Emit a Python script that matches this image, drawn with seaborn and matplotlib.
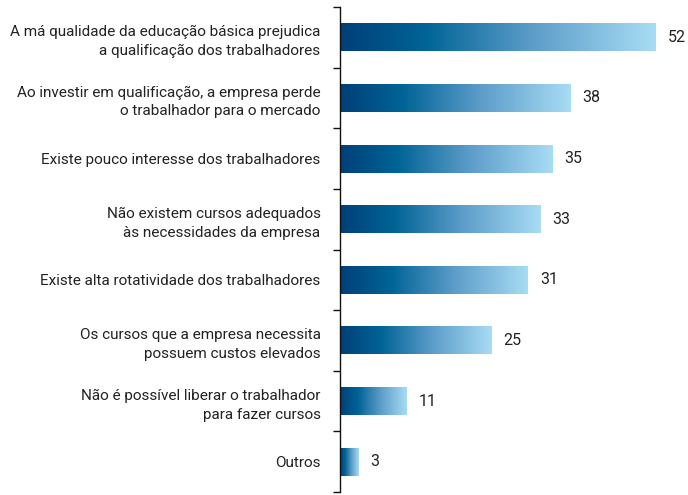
import numpy as np
import pandas as pd
import matplotlib.pyplot as plt
import seaborn as sns
from matplotlib.colors import LinearSegmentedColormap
from matplotlib.ticker import FixedLocator

# data
motivos = [
    "A má qualidade da educação básica prejudica\na qualificação dos trabalhadores",
    "Ao investir em qualificação, a empresa perde\no trabalhador para o mercado",
    "Existe pouco interesse dos trabalhadores",
    "Não existem cursos adequados\nàs necessidades da empresa",
    "Existe alta rotatividade dos trabalhadores",
    "Os cursos que a empresa necessita\npossuem custos elevados",
    "Não é possível liberar o trabalhador\npara fazer cursos",
    "Outros",
]
percentuais = [52, 38, 35, 33, 31, 25, 11, 3]

df = pd.DataFrame({'motivo': motivos, 'pct': percentuais})

sns.set_style("white")
plt.rcParams['font.family'] = ['Roboto', 'DejaVu Sans']

fig = plt.figure(figsize=(6.88, 4.95), dpi=100)
ax = fig.add_axes([340/688, 1 - 492/495, 1 - 340/688, 485/495])

sns.barplot(data=df, x='pct', y='motivo', orient='h', width=0.46,
            color='#00427a', ax=ax)

# gradient fill for each bar
grad = LinearSegmentedColormap.from_list(
    'azul', [(0.0, '#003f78'), (0.27, '#006496'), (0.6, '#5a9bc8'), (1.0, '#a8dcf4')])
g = np.linspace(0, 1, 256).reshape(1, -1)
for p in list(ax.patches):
    x0, y0 = p.get_x(), p.get_y()
    w, h = p.get_width(), p.get_height()
    p.set_visible(False)
    ax.imshow(g, cmap=grad, aspect='auto', interpolation='bilinear',
              extent=(x0, x0 + w, y0 + h, y0), zorder=2)
    ax.text(x0 + w + 2.0, y0 + h / 2, str(int(w)), va='center', ha='left',
            fontsize=11.5, color='#222222')

n = len(motivos)
ax.set_xlim(0, 57.4)
ax.set_ylim(n - 0.5, -0.5)

for s in ['top', 'right', 'bottom']:
    ax.spines[s].set_visible(False)
ax.spines['left'].set_color('#111111')
ax.spines['left'].set_linewidth(1.0)

ax.set_xticks([])
ax.set_xlabel('')
ax.set_ylabel('')
ax.tick_params(axis='y', which='major', left=False, length=0, pad=14,
               labelsize=11, labelcolor='#222222')
ax.yaxis.set_minor_locator(FixedLocator(np.arange(-0.5, n, 1.0)))
ax.tick_params(axis='y', which='minor', left=True, length=5, width=1.0,
               color='#111111')
for lbl in ax.get_yticklabels():
    lbl.set_horizontalalignment('right')
    lbl.set_multialignment('right')
    lbl.set_linespacing(1.45)

fig.savefig('out.png', dpi=100)
